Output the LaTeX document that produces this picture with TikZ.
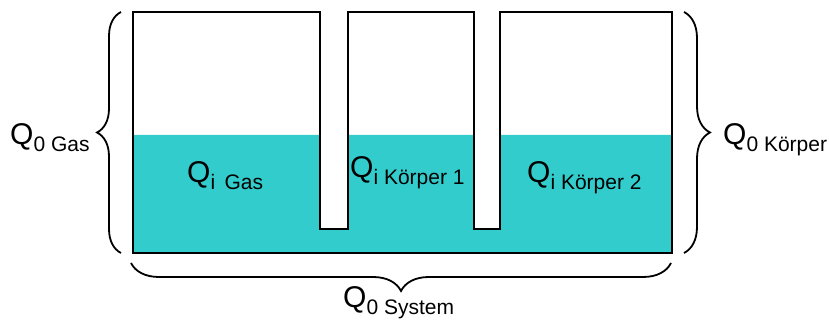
\documentclass[tikz,border=0pt]{standalone}
\usepackage{fontspec}
\setmainfont{Liberation Sans}
\usetikzlibrary{decorations.pathreplacing}

\definecolor{fluid}{RGB}{51,204,204}
% Q with a lowered text index
\newcommand{\Qsub}[1]{{\fontsize{30}{30}\selectfont Q}\raisebox{-7pt}{\fontsize{21}{21}\selectfont #1}}

\begin{document}
\begin{tikzpicture}[
    x=1pt, y=1pt, % one unit = one pixel of the sketch
    wall/.style={line width=2pt, line join=miter}, % Style for the vessel outline
    curly/.style={decorate, decoration={brace, amplitude=#1}, line width=1.8pt}, % Style for braces
    qlabel/.style={anchor=base west, inner sep=0pt} % Style for labels
]

    % Fix the page size
    \useasboundingbox (0,0) rectangle (829,320);

    % Levels of the vessel
    \def\ybot{67}  % bottom
    \def\ytop{308} % top of the walls
    \def\ylev{185} % fluid level
    \def\ygap{91}  % bottom of the separating slots

    % --- Fluid first ---
    \fill[fluid] (133,\ylev) -- (320,\ylev) -- (320,\ygap) -- (348,\ygap) -- (348,\ylev)
        -- (474,\ylev) -- (474,\ygap) -- (500,\ygap) -- (500,\ylev)
        -- (672,\ylev) -- (672,\ybot) -- (133,\ybot) -- cycle;

    % --- Vessel outline ---
    \draw[wall] (133,\ybot) -- (133,\ytop) -- (320,\ytop) -- (320,\ygap) -- (348,\ygap) -- (348,\ytop)
        -- (474,\ytop) -- (474,\ygap) -- (500,\ygap) -- (500,\ytop)
        -- (672,\ytop) -- (672,\ybot) -- cycle;

    % --- Braces ---
    \draw[curly=24] (121,\ybot) -- (121,\ytop);
    \draw[curly=26] (684,\ytop) -- (684,\ybot);
    \draw[curly=28] (671,57) -- (131,57);

    % --- Labels ---
    \node[qlabel] (q0gas) at (10,175) {\Qsub{0 Gas}};
    \node[qlabel] (q0koerper) at (723,175) {\Qsub{0 Körper}};
    \node[qlabel] (q0system) at (343,12) {\Qsub{0 System}};
    \node[qlabel] (qigas) at (187,137) {\Qsub{i\, Gas}};
    \node[qlabel] (qikoerper1) at (350,142) {\Qsub{i Körper 1}};
    \node[qlabel] (qikoerper2) at (527,137) {\Qsub{i Körper 2}};

\end{tikzpicture}
\end{document}
